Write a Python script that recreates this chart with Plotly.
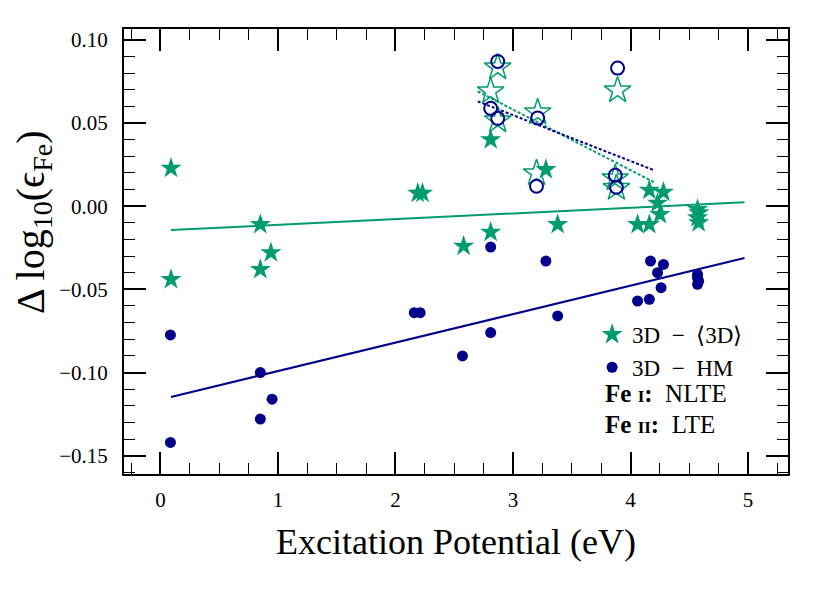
import plotly.graph_objects as go

GREEN = "#009B6E"
BLUE = "#00008B"
FONT = "Liberation Serif"

# Fe I (NLTE), 3D - <3D>: filled stars
fe1_ep_star = [0.09, 0.09, 0.85, 0.85, 0.94, 2.19, 2.23, 2.58, 2.81, 2.81, 3.28, 3.38,
               4.06, 4.16, 4.16, 4.28, 4.23, 4.25, 4.57, 4.58, 4.57, 4.58]
fe1_d_star = [0.0228, -0.044, -0.011, -0.038, -0.028, 0.0078, 0.0078, -0.024, -0.0156, 0.040,
              0.022, -0.011, -0.011, -0.011, 0.0096, 0.0084, 0.0018, -0.005,
              -0.002, -0.004, -0.007, -0.010]

# Fe I (NLTE), 3D - HM: filled circles
fe1_ep_circ = [0.085, 0.085, 0.85, 0.85, 0.95, 2.16, 2.21, 2.57, 2.81, 2.81, 3.28, 3.38,
               4.17, 4.28, 4.23, 4.26, 4.06, 4.16, 4.57, 4.57, 4.58, 4.57]
fe1_d_circ = [-0.0774, -0.142, -0.100, -0.128, -0.116, -0.064, -0.064, -0.090, -0.0246, -0.076,
              -0.033, -0.066, -0.033, -0.035, -0.040, -0.049, -0.057, -0.056,
              -0.041, -0.043, -0.045, -0.047]

# Fe II (LTE): open symbols
fe2_ep = [2.87, 2.81, 2.87, 3.21, 3.20, 3.89, 3.87, 3.88]
fe2_d_star = [0.0834, 0.069, 0.0516, 0.0564, 0.0198, 0.0696, 0.0168, 0.011]
fe2_d_circ = [0.087, 0.0588, 0.0528, 0.053, 0.012, 0.083, 0.0186, 0.0114]

# linear fits (end points)
fit1_x = [0.09, 4.97]
fit1_star = [-0.0144, 0.0024]
fit1_circ = [-0.1147, -0.0312]
fit2_x = [2.70, 4.20]
fit2_star = [0.069, 0.0144]
fit2_circ = [0.063, 0.0216]

fig = go.Figure()

fig.add_trace(go.Scatter(x=fit1_x, y=fit1_star, mode="lines", line=dict(color=GREEN, width=2),
                         showlegend=False))
fig.add_trace(go.Scatter(x=fit1_x, y=fit1_circ, mode="lines", line=dict(color=BLUE, width=2),
                         showlegend=False))
fig.add_trace(go.Scatter(x=fit2_x, y=fit2_star, mode="lines",
                         line=dict(color=GREEN, width=2, dash="3px,2px"), showlegend=False))
fig.add_trace(go.Scatter(x=fit2_x, y=fit2_circ, mode="lines",
                         line=dict(color=BLUE, width=2, dash="3px,2px"), showlegend=False))

fig.add_trace(go.Scatter(x=fe1_ep_star, y=fe1_d_star, mode="markers", name="3D  −  ⟨3D⟩",
                         marker=dict(symbol="star", size=16, color=GREEN, line=dict(width=0))))
fig.add_trace(go.Scatter(x=fe1_ep_circ, y=fe1_d_circ, mode="markers", name="3D  −  HM",
                         marker=dict(symbol="circle", size=11, color=BLUE, line=dict(width=0))))
fig.add_trace(go.Scatter(x=fe2_ep, y=fe2_d_star, mode="markers", showlegend=False,
                         marker=dict(symbol="star-open", size=20, color=GREEN, line=dict(width=1.5))))
fig.add_trace(go.Scatter(x=fe2_ep, y=fe2_d_circ, mode="markers", showlegend=False,
                         marker=dict(symbol="circle-open", size=13, color=BLUE, line=dict(width=2))))

axis_common = dict(
    showgrid=False, zeroline=False, showline=True, linecolor="black", linewidth=2,
    mirror="ticks", ticks="inside", ticklen=22, tickwidth=1.5, tickcolor="black",
    tickfont=dict(family=FONT, size=21, color="black"),
)

fig.update_xaxes(
    range=[-0.31, 5.34], dtick=1, tick0=0, ticklabelstandoff=6,
    minor=dict(dtick=0.25, ticks="inside", ticklen=11, tickwidth=1.2, tickcolor="black"),
    title=dict(text="Excitation Potential (eV)", font=dict(family=FONT, size=36, color="black"),
               standoff=18),
    **axis_common,
)
fig.update_yaxes(
    range=[-0.161, 0.1065], dtick=0.05, tick0=0, tickformat=".2f", ticklabelstandoff=10,
    minor=dict(dtick=0.01, ticks="inside", ticklen=11, tickwidth=1.2, tickcolor="black"),
    **axis_common,
)

# y-axis title (placed as annotation to match the reference position)
fig.add_annotation(x=-0.138, y=0.565, xref="paper", yref="paper", xanchor="center",
                   yanchor="middle", showarrow=False, textangle=-90,
                   text="Δ log<sub>10</sub>(ϵ<sub>Fe</sub>)",
                   font=dict(family=FONT, size=40, color="black"))

fig.add_annotation(x=0.722, y=0.147, xref="paper", yref="paper", xanchor="left", showarrow=False,
                   text="<b>Fe <span style='font-size:17px'>I</span>:</b>  NLTE",
                   font=dict(family=FONT, size=25, color="black"))
fig.add_annotation(x=0.722, y=0.077, xref="paper", yref="paper", xanchor="left", showarrow=False,
                   text="<b>Fe <span style='font-size:17px'>II</span>:</b>  LTE",
                   font=dict(family=FONT, size=25, color="black"))

fig.update_layout(
    width=830, height=593,
    margin=dict(l=116, r=50, t=21, b=127),
    paper_bgcolor="white", plot_bgcolor="white",
    legend=dict(x=0.705, y=0.362, xanchor="left", yanchor="top", bgcolor="rgba(0,0,0,0)",
                font=dict(family=FONT, size=23, color="black"), itemwidth=30,
                tracegroupgap=0),
    font=dict(family=FONT),
)

fig.write_html("out.html")
